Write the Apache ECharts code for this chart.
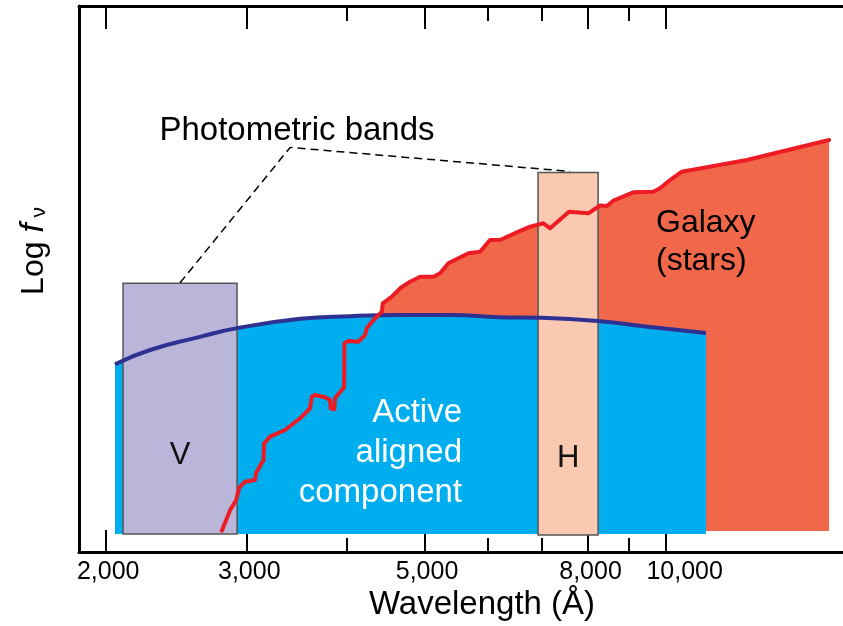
<!DOCTYPE html>
<html>
<head>
<meta charset="utf-8">
<script src="https://cdn.jsdelivr.net/npm/echarts@6/dist/echarts.min.js"></script>
<style>
  html, body { margin: 0; padding: 0; background: #fff; }
  #chart { width: 843px; height: 626px; }
</style>
</head>
<body>
<div id="chart"></div>
<script>
// x axis: wavelength in Angstrom (log scale), y axis: log f_nu in arbitrary units (0-100)
const majorTicks = [2000, 3000, 5000, 8000, 10000];
const minorTicks = [4000, 6000, 7000, 9000];

// active aligned component (blue)
const agnWave = [2054, 2272, 2622, 2917, 3497, 4036, 4660, 5382, 6212, 6930, 8235, 9560, 11232];
const agnFlux = [34.4, 37.0, 39.4, 41.0, 42.7, 43.2, 43.4, 43.4, 43.0, 42.9, 42.3, 41.2, 40.1];
const agnBase = 3.3;

// galaxy (stars), red line
const galWave = [2792, 2860, 2910, 2937, 2985, 3072, 3081, 3147, 3153, 3208, 3349, 3497, 3598, 3616,
  3650, 3756, 3811, 3818, 3858, 3866, 3968, 3972, 4018, 4136, 4215, 4235, 4318, 4423, 4435, 4552,
  4661, 4797, 4938, 5129, 5229, 5355, 5511, 5672, 5866, 6036, 6212, 6520, 6774, 7038, 7174, 7576,
  8008, 8282, 8444, 8604, 9114, 9652, 9840, 10128, 10474, 12628, 16000];
const galFlux = [3.9, 7.69, 9.52, 11.85, 12.88, 13.19, 14.47, 16.85, 19.91, 21.12, 22.34, 24.49, 26.32, 28.44,
  28.75, 28.33, 27.84, 26.32, 26.14, 28.15, 30.16, 38.22, 38.64, 38.52, 39.74, 40.97, 42.49, 44.01, 45.55, 46.76,
  48.3, 49.51, 50.42, 50.42, 51.04, 52.88, 53.79, 54.71, 55.0, 57.14, 57.14, 58.55, 59.58, 60.2, 59.29, 62.33,
  62.03, 63.46, 63.37, 64.34, 65.88, 65.99, 66.61, 68.13, 69.65, 71.79, 75.46];
const galBase = 3.85;

// photometric bands
const bandNames = ['V', 'H'];
const bandLo = [2102, 6930];
const bandHi = [2917, 8235];
const bandTop = [49.2, 69.5];
const bandBottom = [3.3, 3.1];
const bandLabelFlux = [17.6, 17.2];
const bandColors = ['#bab6da', '#fbc8b2'];

// dashed leader from the label to the two bands
const leaderWave = [2476, 3398, 7598];
const leaderFlux = [49.3, 74.1, 69.7];

const FONT = 'Liberation Sans, Arial, sans-serif';
const zip = (xs, ys) => xs.map((x, i) => [x, ys[i]]);

const chart = echarts.init(document.getElementById('chart'));

function tickAxis(position, values, len, showLine, showLabel) {
    return {
        type: 'log',
        position: position,
        min: 1852,
        max: 16650,
        axisLine: { show: showLine, onZero: false, lineStyle: { color: '#000', width: 3 } },
        axisTick: {
            show: true,
            inside: true,
            length: len,
            customValues: values,
            lineStyle: { color: '#000', width: 2 }
        },
        axisLabel: {
            show: showLabel,
            customValues: values,
            margin: 8,
            color: '#000',
            fontSize: 25,
            fontFamily: FONT,
            formatter: v => {
                const s = Number(v).toLocaleString('en-US');
                // the 10,000 label sits a bit right of its tick, as in the original
                return v >= 10000 ? '{r|' + s + '}' : '{n|' + s + '}';
            },
            rich: {
                n: { fontSize: 25, fontFamily: FONT, color: '#000', padding: [0, 0, 0, 5] },
                r: { fontSize: 25, fontFamily: FONT, color: '#000', padding: [0, 0, 0, 38] }
            }
        },
        splitLine: { show: false },
        minorTick: { show: false }
    };
}

const option = {
    animation: false,
    backgroundColor: '#fff',
    grid: { left: 79, right: 0, top: 6, bottom: 74 },
    xAxis: [
        tickAxis('bottom', majorTicks, 22, true, true),
        tickAxis('bottom', minorTicks, 14, false, false),
        tickAxis('top', majorTicks, 23, true, false),
        tickAxis('top', minorTicks, 15, false, false)
    ],
    yAxis: {
        type: 'value',
        min: 0,
        max: 100,
        axisLine: { show: true, onZero: false, lineStyle: { color: '#000', width: 3 } },
        axisTick: { show: false },
        axisLabel: { show: false },
        splitLine: { show: false }
    },
    graphic: [
        {
            type: 'text', x: 34, y: 251, rotation: Math.PI / 2,
            style: {
                text: '{a|Log }{b|f}{c| ν}',
                align: 'center', verticalAlign: 'middle',
                rich: {
                    a: { fontSize: 32, fontFamily: FONT, fill: '#000' },
                    b: { fontSize: 33, fontFamily: FONT, fontStyle: 'italic', fill: '#000' },
                    c: { fontSize: 21, fontFamily: FONT, fill: '#000', padding: [10, 0, 0, 0] }
                }
            }
        },
        {
            type: 'text', x: 482, y: 605,
            style: { text: 'Wavelength (Å)', fontSize: 33, fontFamily: FONT, fill: '#000', align: 'center', verticalAlign: 'middle' }
        },
        {
            type: 'text', x: 297, y: 131, z: 10,
            style: { text: 'Photometric bands', fontSize: 33, fontFamily: FONT, fill: '#000', align: 'center', verticalAlign: 'middle' }
        },
        {
            type: 'text', x: 462, y: 453, z: 10,
            style: { text: 'Active\naligned\ncomponent', fontSize: 33, lineHeight: 40, fontFamily: FONT, fill: '#fff', align: 'right', verticalAlign: 'middle' }
        },
        {
            type: 'text', x: 656, y: 242, z: 10,
            style: { text: 'Galaxy\n(stars)', fontSize: 32, lineHeight: 38, fontFamily: FONT, fill: '#000', align: 'left', verticalAlign: 'middle' }
        }
    ],
    series: [
        {
            name: 'Galaxy fill',
            type: 'line',
            z: 1,
            silent: true,
            symbol: 'none',
            data: zip(galWave, galFlux),
            lineStyle: { width: 0 },
            areaStyle: { color: '#f0674a', opacity: 1, origin: galBase }
        },
        {
            name: 'Active aligned component',
            type: 'line',
            z: 2,
            silent: true,
            symbol: 'none',
            smooth: true,
            data: zip(agnWave, agnFlux),
            lineStyle: { width: 0 },
            areaStyle: { color: '#00adee', opacity: 1, origin: agnBase }
        },
        {
            name: 'Bands',
            type: 'custom',
            z: 3,
            silent: true,
            data: bandNames.map((n, i) => [bandLo[i], bandHi[i], bandTop[i], bandBottom[i], bandLabelFlux[i]]),
            encode: { x: [0, 1], y: [2, 3] },
            renderItem: function(params, api) {
                const i = params.dataIndex;
                const p0 = api.coord([api.value(0), api.value(3)]);
                const p1 = api.coord([api.value(1), api.value(2)]);
                const pl = api.coord([api.value(0), api.value(4)]);
                return {
                    type: 'group',
                    children: [
                        {
                            type: 'rect',
                            shape: { x: p0[0], y: p1[1], width: p1[0] - p0[0], height: p0[1] - p1[1] },
                            style: { fill: bandColors[i], stroke: '#555', lineWidth: 1.5 }
                        },
                        {
                            type: 'text',
                            x: (p0[0] + p1[0]) / 2,
                            y: pl[1],
                            style: { text: bandNames[i], fontSize: 31, fontFamily: FONT, fill: '#111', align: 'center', verticalAlign: 'middle' }
                        }
                    ]
                };
            }
        },
        {
            name: 'AGN line',
            type: 'line',
            z: 4,
            silent: true,
            symbol: 'none',
            smooth: true,
            data: zip(agnWave, agnFlux),
            lineStyle: { color: '#2e3192', width: 4 }
        },
        {
            name: 'Galaxy line',
            type: 'line',
            z: 5,
            silent: true,
            symbol: 'none',
            data: zip(galWave, galFlux),
            lineStyle: { color: '#ed1c24', width: 4, join: 'round', cap: 'round' }
        },
        {
            name: 'Leader',
            type: 'line',
            z: 6,
            silent: true,
            symbol: 'none',
            data: zip(leaderWave, leaderFlux),
            lineStyle: { color: '#000', width: 1.5, type: [8, 5] }
        }
    ]
};

chart.setOption(option);

window.addEventListener('resize', () => chart.resize());
</script>
</body>
</html>
